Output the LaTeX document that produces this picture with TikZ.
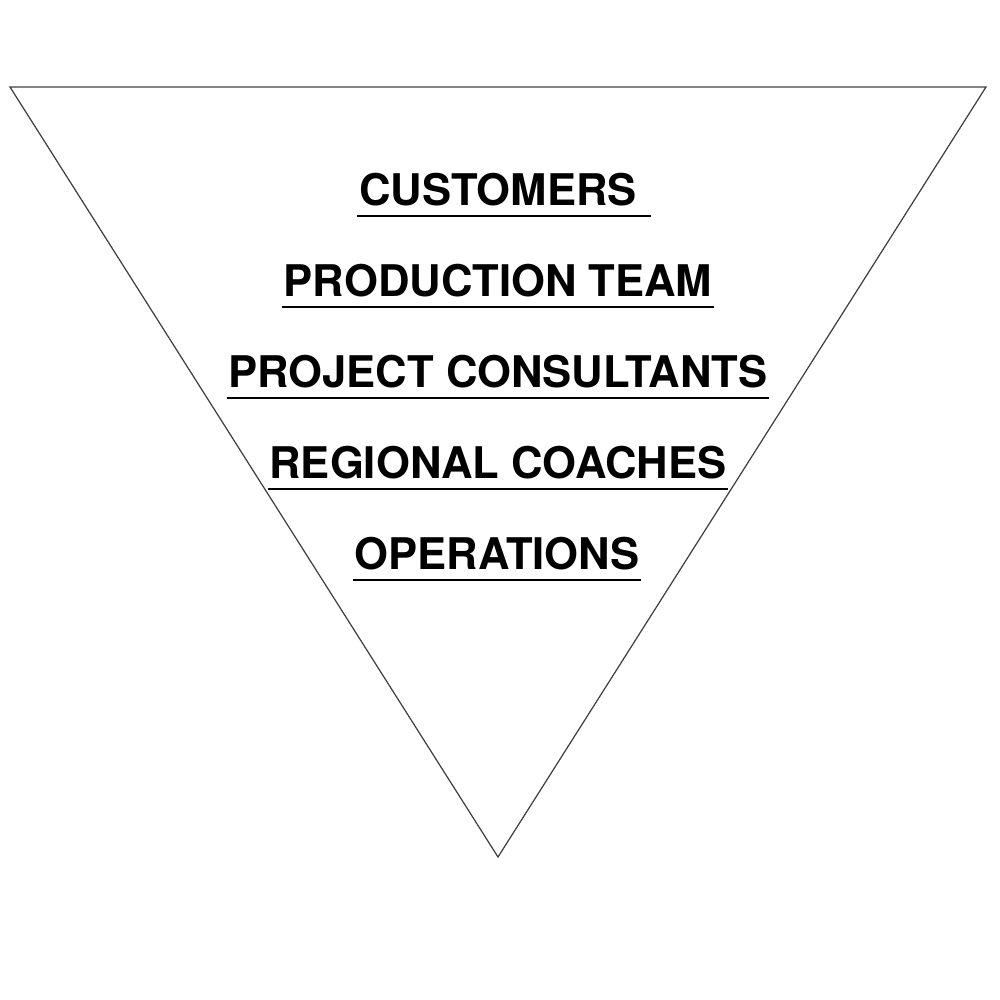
\documentclass[tikz,border=0pt]{standalone}
\usepackage{fontspec}
\setmainfont{TeX Gyre Heros}
\usetikzlibrary{positioning}
\usetikzlibrary{calc}

\begin{document}
\begin{tikzpicture}[x=0.01cm,y=-0.01cm,
	level/.style={font=\fontsize{12.4pt}{14pt}\selectfont\bfseries, inner xsep=0.01cm, inner ysep=0pt, anchor=base},
	uline/.style={line width=0.6pt}]
	
	\useasboundingbox (0,0) rectangle (1000,1000);
	
	% the three corners of the upside-down triangle
	\coordinate (TL) at (10,87);
	\coordinate (TR) at (986,87);
	\coordinate (B) at (498,857);
	
	\draw[line width=0.35pt, black!75] (TL) -- (TR) -- (B) -- cycle;
	
	% levels, top to bottom, placed on their base lines
	\node[level] (L1) at (504,205) {CUSTOMERS\kern0.28em};
	\node[level] (L2) at (498,296) {PRODUCTION TEAM};
	\node[level] (L3) at (498,387) {PROJECT CONSULTANTS};
	\node[level] (L4) at (498,478) {REGIONAL COACHES};
	\node[level] (L5) at (497,569) {OPERATIONS};
	
	% underlines
	\foreach \n in {1,...,5}
		\draw[uline] ($(L\n.base west)+(0,11)$) -- ($(L\n.base east)+(0,11)$);
	
\end{tikzpicture}
\end{document}
